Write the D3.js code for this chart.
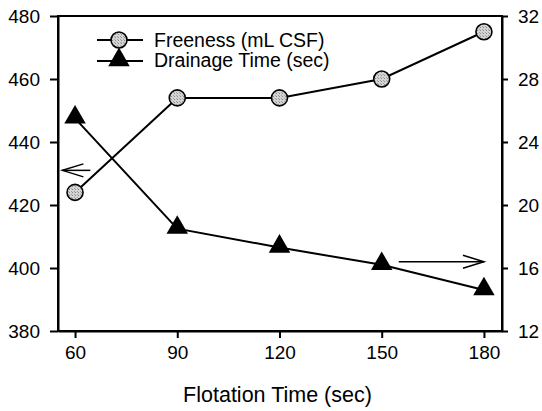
<!DOCTYPE html>
<html><head><meta charset="utf-8">
<script src="https://cdn.jsdelivr.net/npm/d3@7"></script>
<style>body{margin:0;background:#fff}svg{display:block}text{font-family:"Liberation Sans",Arial,sans-serif;fill:#000}</style>
</head><body>
<script>
const flotationTime = [60, 90, 120, 150, 180];
const freeness = [424, 454, 454, 460, 475];
const drainageTime = [25.5, 18.5, 17.3, 16.2, 14.6];
const xTicks = [60, 90, 120, 150, 180];
const leftTicks = [380, 400, 420, 440, 460, 480];
const rightTicks = [12, 16, 20, 24, 28, 32];
const seriesNames = ["Freeness (mL CSF)", "Drainage Time (sec)"];
const xTitle = "Flotation Time (sec)";

const W = 542, H = 411;
const m = {l: 58, r: 40, t: 16, b: 80};
const svg = d3.select("body").append("svg").attr("width", W).attr("height", H);
const x = d3.scaleLinear().domain([55, 185.3]).range([m.l, W - m.r]);
const yL = d3.scaleLinear().domain([380, 480]).range([H - m.b, m.t]);
const yR = d3.scaleLinear().domain([12, 32]).range([H - m.b, m.t]);

const fs = "19px";
// frame
svg.append("rect").attr("x", m.l).attr("y", m.t).attr("width", W - m.r - m.l).attr("height", H - m.b - m.t)
  .attr("fill", "none").attr("stroke", "#000").attr("stroke-width", 2);

const ax = svg.append("g").attr("transform", `translate(0,${H - m.b})`)
  .call(d3.axisBottom(x).tickValues(xTicks).tickSize(7).tickPadding(8).tickSizeOuter(0));
const al = svg.append("g").attr("transform", `translate(${m.l},0)`)
  .call(d3.axisLeft(yL).tickValues(leftTicks).tickSize(8).tickPadding(10).tickSizeOuter(0));
const ar = svg.append("g").attr("transform", `translate(${W - m.r},0)`)
  .call(d3.axisRight(yR).tickValues(rightTicks).tickSize(6).tickPadding(10).tickSizeOuter(0));
[ax, al, ar].forEach(g => {
  g.select(".domain").attr("stroke-width", 2);
  g.selectAll(".tick line").attr("stroke-width", 2);
  g.selectAll("text").style("font-size", fs).style("font-family", '"Liberation Sans",Arial,sans-serif').attr("fill", "#000");
});
ax.selectAll("text").attr("dy", "0.71em");

svg.append("text").attr("x", x(120) - 2).attr("y", 402).attr("text-anchor", "middle")
  .style("font-size", "21.5px").text(xTitle);

const defs = svg.append("defs");
const pat = defs.append("pattern").attr("id", "dots").attr("width", 3).attr("height", 3).attr("patternUnits", "userSpaceOnUse");
pat.append("rect").attr("width", 3).attr("height", 3).attr("fill", "#d4d4d4");
pat.append("rect").attr("width", 1).attr("height", 1).attr("fill", "#8a8a8a");
pat.append("rect").attr("x", 2).attr("y", 2).attr("width", 1).attr("height", 1).attr("fill", "#a0a0a0");

const fData = flotationTime.map((t, i) => [t, freeness[i]]);
const dData = flotationTime.map((t, i) => [t, drainageTime[i]]);

svg.append("path").datum(fData).attr("fill", "none").attr("stroke", "#000").attr("stroke-width", 2)
  .attr("d", d3.line().x(d => x(d[0])).y(d => yL(d[1])));
svg.append("path").datum(dData).attr("fill", "none").attr("stroke", "#000").attr("stroke-width", 2)
  .attr("d", d3.line().x(d => x(d[0])).y(d => yR(d[1])));

const tri = d3.symbol().type(d3.symbolTriangle).size(200);
svg.selectAll(".tri").data(dData).enter().append("path")
  .attr("transform", d => `translate(${x(d[0])},${yR(d[1]) - 1})`).attr("d", tri).attr("fill", "#000");
svg.selectAll(".circ").data(fData).enter().append("circle")
  .attr("cx", d => x(d[0])).attr("cy", d => yL(d[1])).attr("r", 8)
  .attr("fill", "url(#dots)").attr("stroke", "#000").attr("stroke-width", 1.6);

// legend
const lg = svg.append("g").attr("transform", "translate(97,40)");
lg.append("line").attr("x1", 0).attr("x2", 46).attr("y1", 0).attr("y2", 0).attr("stroke", "#000").attr("stroke-width", 2);
lg.append("circle").attr("cx", 22).attr("cy", 0).attr("r", 8).attr("fill", "url(#dots)").attr("stroke", "#000").attr("stroke-width", 1.6);
lg.append("line").attr("x1", 0).attr("x2", 46).attr("y1", 21).attr("y2", 21).attr("stroke", "#000").attr("stroke-width", 2);
lg.append("path").attr("transform", "translate(22,20)").attr("d", tri).attr("fill", "#000");
lg.selectAll(".lt").data(seriesNames).enter().append("text").attr("x", 57).attr("y", (d, i) => i * 20 + 7)
  .style("font-size", "19.5px").text(d => d);

// arrows (annotations, in data units)
function arrow(x1, x2, yv, scale) {
  const yy = scale(yv), xa = x(x1), xb = x(x2);
  const dir = Math.sign(xa - xb);
  svg.append("line").attr("x1", xa).attr("x2", xb).attr("y1", yy).attr("y2", yy).attr("stroke", "#000").attr("stroke-width", 1.5);
  svg.append("path").attr("d", `M${xb + dir * 21},${yy - 6.5}L${xb},${yy}L${xb + dir * 21},${yy + 6.5}`)
    .attr("fill", "none").attr("stroke", "#000").attr("stroke-width", 1.5);
}
arrow(64.5, 56.3, 431, yL);
arrow(155, 180, 16.4, yR);
</script>
</body></html>
